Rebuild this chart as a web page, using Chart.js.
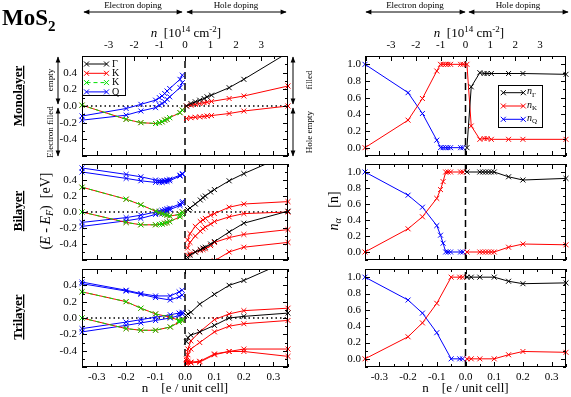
<!DOCTYPE html>
<html>
<head>
<meta charset="utf-8">
<script src="https://cdn.jsdelivr.net/npm/chart.js@4.4.0/dist/chart.umd.min.js"></script>
<style>
  body { margin: 0; background: #fff; }
  #wrap { position: relative; width: 571px; height: 397px; overflow: hidden; }
  canvas { position: absolute; }
  #ov { position: absolute; left: 0; top: 0; pointer-events: none; }
</style>
</head>
<body>
<div id="wrap">
  <canvas id="cML"></canvas>
  <canvas id="cMR"></canvas>
  <canvas id="cBL"></canvas>
  <canvas id="cBR"></canvas>
  <canvas id="cTL"></canvas>
  <canvas id="cTR"></canvas>
  <svg id="ov" width="571" height="397" font-family="Liberation Serif, serif">
    <defs>
      <marker id="ah" viewBox="0 0 10 10" refX="9" refY="5" markerWidth="7" markerHeight="6" orient="auto-start-reverse">
        <path d="M0,1 L10,5 L0,9 z" fill="#000"/>
      </marker>
    </defs>
    <text x="2" y="25" font-size="23" font-weight="bold">MoS<tspan dy="6" font-size="15">2</tspan></text>

    <!-- doping arrows -->
    <g stroke="#000" stroke-width="1">
      <line x1="84" y1="12" x2="182" y2="12" marker-start="url(#ah)" marker-end="url(#ah)"/>
      <line x1="187" y1="12" x2="286" y2="12" marker-start="url(#ah)" marker-end="url(#ah)"/>
      <line x1="366" y1="12" x2="465" y2="12" marker-start="url(#ah)" marker-end="url(#ah)"/>
      <line x1="469" y1="12" x2="568" y2="12" marker-start="url(#ah)" marker-end="url(#ah)"/>
      <line x1="58" y1="57" x2="58" y2="104" marker-start="url(#ah)" marker-end="url(#ah)"/>
      <line x1="58" y1="108" x2="58" y2="156" marker-start="url(#ah)" marker-end="url(#ah)"/>
      <line x1="293" y1="57" x2="293" y2="104" marker-start="url(#ah)" marker-end="url(#ah)"/>
      <line x1="293" y1="108" x2="293" y2="156" marker-start="url(#ah)" marker-end="url(#ah)"/>
    </g>
    <g font-size="9" text-anchor="middle">
      <text x="133" y="8">Electron doping</text>
      <text x="236" y="8">Hole doping</text>
      <text x="415" y="8">Electron doping</text>
      <text x="518" y="8">Hole doping</text>
      <text transform="translate(53,80) rotate(-90)">empty</text>
      <text transform="translate(53,132) rotate(-90)">Electron filled</text>
      <text transform="translate(312,80) rotate(-90)">filled</text>
      <text transform="translate(312,132) rotate(-90)">Hole empty</text>
    </g>

    <!-- top axis titles -->
    <g font-size="13" text-anchor="middle">
      <text x="186" y="37"><tspan font-style="italic">n</tspan>&#160;&#160;[10<tspan font-size="9" dy="-5">14</tspan><tspan dy="5"> cm</tspan><tspan font-size="9" dy="-5">-2</tspan><tspan dy="5">]</tspan></text>
      <text x="469" y="37"><tspan font-style="italic">n</tspan>&#160;&#160;[10<tspan font-size="9" dy="-5">14</tspan><tspan dy="5"> cm</tspan><tspan font-size="9" dy="-5">-2</tspan><tspan dy="5">]</tspan></text>
    </g>

    <!-- row labels -->
    <g font-size="13" font-weight="bold" text-anchor="middle" text-decoration="underline">
      <text transform="translate(22,96) rotate(-90)">Monolayer</text>
      <text transform="translate(22,211) rotate(-90)">Bilayer</text>
      <text transform="translate(22,317) rotate(-90)">Trilayer</text>
    </g>

    <!-- y axis titles -->
    <g font-size="14" text-anchor="middle">
      <text transform="translate(50,211) rotate(-90)">(<tspan font-style="italic">E</tspan> - <tspan font-style="italic">E</tspan><tspan font-size="10" font-style="italic" dy="3">F</tspan><tspan dy="-3">)&#160;&#160;[eV]</tspan></text>
      <text transform="translate(338,211) rotate(-90)"><tspan font-style="italic">n</tspan><tspan font-size="10" font-style="italic" dy="3">α</tspan><tspan dy="-3">&#160;&#160;&#160;[n]</tspan></text>
    </g>
  </svg>
</div>
<script>
// ---------- axes ----------
const N_MIN = -0.35, N_MAX = 0.35;
const N_TICKS = [-0.35, -0.3, -0.25, -0.2, -0.15, -0.1, -0.05, 0, 0.05, 0.1, 0.15, 0.2, 0.25, 0.3, 0.35];
const N_LABELS = [-0.3, -0.2, -0.1, 0, 0.1, 0.2, 0.3];
const CM_PER_CELL = 11.56; // 1 e/cell in 10^14 cm^-2
const CM_TICKS = [-4, -3.5, -3, -2.5, -2, -1.5, -1, -0.5, 0, 0.5, 1, 1.5, 2, 2.5, 3, 3.5, 4];
const CM_LABELS = [-3, -2, -1, 0, 1, 2, 3];
const E_TICKS = [-0.6, -0.5, -0.4, -0.3, -0.2, -0.1, 0, 0.1, 0.2, 0.3, 0.4, 0.5, 0.6];
const E_LABELS = [-0.4, -0.2, 0, 0.2, 0.4];
const OCC_TICKS = [-0.1, 0, 0.1, 0.2, 0.3, 0.4, 0.5, 0.6, 0.7, 0.8, 0.9, 1, 1.1];
const OCC_LABELS = [0, 0.2, 0.4, 0.6, 0.8, 1];

// ---------- monolayer ----------
const N_E1 = [-0.35, -0.2, -0.15, -0.1, -0.087, -0.078, -0.069, -0.061, -0.052, -0.017, -0.009];
const MONO_K_E = [0.01, -0.16, -0.2, -0.21, -0.2, -0.19, -0.17, -0.16, -0.14, -0.08, -0.05];
const MONO_Q1 = [-0.12, -0.03, 0.02, 0.07, 0.1, 0.12, 0.15, 0.18, 0.21, 0.32, 0.37];
const MONO_Q2 = [-0.17, -0.11, -0.06, -0.02, 0.01, 0.03, 0.05, 0.08, 0.11, 0.22, 0.28];
const N_HM = [0.005, 0.02, 0.035, 0.05, 0.065, 0.075, 0.09, 0.15, 0.2, 0.35];
const MONO_G = [0.0, 0.03, 0.05, 0.07, 0.09, 0.11, 0.13, 0.22, 0.32, 0.64];
const MONO_K_H1 = [0.0, 0.01, 0.02, 0.03, 0.04, 0.045, 0.055, 0.09, 0.12, 0.24];
const MONO_K_H2 = [-0.15, -0.14, -0.135, -0.13, -0.125, -0.12, -0.115, -0.09, -0.06, 0.0];
const N_HMR = [0.005, 0.02, 0.05, 0.065, 0.075, 0.09, 0.15, 0.2, 0.35];
const MONO_NQ = [1, 0.66, 0.41, 0.09, 0, 0, 0, 0, 0, 0, 0];
const MONO_NK = [0, 0.33, 0.59, 0.92, 1, 1, 1, 1, 1, 1, 1, 1, 0.26, 0.1, 0.11, 0.11, 0.1, 0.1, 0.1, 0.1];
const MONO_NG = [0, 0.73, 0.9, 0.89, 0.89, 0.89, 0.89, 0.89, 0.88];

// ---------- bilayer ----------
const BI_Q1 = [0.55, 0.47, 0.44, 0.40, 0.39, 0.39, 0.39, 0.40, 0.41, 0.46, 0.48];
const BI_Q2 = [0.5, 0.42, 0.39, 0.37, 0.37, 0.37, 0.38, 0.38, 0.39, 0.45, 0.47];
const BI_Q3 = [-0.13, -0.07, -0.04, 0.0, 0.01, 0.02, 0.03, 0.04, 0.05, 0.1, 0.13];
const BI_Q4 = [-0.18, -0.11, -0.08, -0.03, -0.02, -0.01, 0.0, 0.01, 0.03, 0.08, 0.11];
const BI_K1 = [0.31, 0.16, 0.09, 0.01, -0.01, -0.02, -0.03, -0.04, -0.05, -0.03, 0.0];
const BI_K2 = [0.0, -0.13, -0.16, -0.16, -0.155, -0.15, -0.14, -0.13, -0.12, -0.06, -0.03];
const N_H2 = [0.009, 0.017, 0.035, 0.052, 0.061, 0.069, 0.087, 0.1, 0.15, 0.2, 0.35];
const BI_G1 = [0.03, 0.05, 0.1, 0.15, 0.18, 0.2, 0.25, 0.28, 0.39, 0.48, 0.72];
const BI_G2 = [-0.57, -0.54, -0.5, -0.47, -0.45, -0.44, -0.4, -0.37, -0.25, -0.14, 0.01];
const BI_R1 = [-0.35, -0.27, -0.18, -0.12, -0.1, -0.08, -0.04, -0.02, 0.06, 0.1, 0.13];
const BI_R2 = [-0.45, -0.38, -0.3, -0.24, -0.21, -0.19, -0.15, -0.12, -0.06, -0.02, 0.0];
const BI_R3 = [-0.54, -0.52, -0.5, -0.48, -0.47, -0.46, -0.42, -0.38, -0.32, -0.28, -0.22];
const N_R4 = [0.1, 0.15, 0.2, 0.35];
const BI_R4 = [-0.61, -0.5, -0.44, -0.38];
const BI_NQ = [1, 0.71, 0.56, 0.33, 0.21, 0.11, 0, 0, 0, 0, 0];
const BI_NK_E = [0, 0.29, 0.44, 0.67, 0.78, 0.88, 1, 1, 1, 1, 1];
const N_H2R = [0.005, 0.05, 0.06, 0.07, 0.08, 0.09, 0.1, 0.15, 0.2, 0.35];
const BI_NG = [1, 1, 1, 1, 1, 1, 1, 0.94, 0.9, 0.92];
const BI_NK_H = [0, 0, 0, 0, 0, 0, 0, 0.06, 0.1, 0.09];

// ---------- trilayer ----------
const N_E3 = [-0.35, -0.2, -0.15, -0.1, -0.05, -0.02, -0.01];
const TRI_Q1 = [0.44, 0.34, 0.3, 0.27, 0.27, 0.32, 0.34];
const TRI_Q2 = [0.42, 0.33, 0.29, 0.25, 0.22, 0.26, 0.28];
const TRI_Q3 = [-0.13, -0.05, -0.02, 0.01, 0.04, 0.06, 0.07];
const TRI_Q4 = [-0.17, -0.09, -0.06, -0.03, 0.0, 0.03, 0.05];
const TRI_K1 = [0.32, 0.2, 0.12, 0.05, 0.01, -0.03, -0.02];
const TRI_K2 = [0.0, -0.13, -0.15, -0.15, -0.11, -0.05, -0.03];
const N_H3 = [0.005, 0.01, 0.02, 0.05, 0.1, 0.15, 0.2, 0.35];
const TRI_G1 = [0.03, 0.05, 0.07, 0.17, 0.29, 0.4, 0.46, 0.7];
const TRI_G2 = [-0.29, -0.24, -0.21, -0.17, -0.09, 0.0, 0.02, 0.06];
const TRI_R1 = [-0.5, -0.38, -0.28, -0.17, -0.02, 0.05, 0.09, 0.12];
const TRI_R2 = [-0.52, -0.45, -0.38, -0.3, -0.17, -0.1, -0.07, -0.03];
const TRI_R3 = [-0.52, -0.53, -0.54, -0.53, -0.44, -0.41, -0.38, -0.38];
const TRI_R4 = [-0.56, -0.55, -0.55, -0.54, -0.45, -0.41, -0.41, -0.47];
const TRI_NQ = [1, 0.72, 0.56, 0.32, 0, 0, 0];
const TRI_NK_E = [0, 0.27, 0.44, 0.68, 1, 1, 1];
const N_H3R = [0.005, 0.02, 0.05, 0.1, 0.15, 0.2, 0.35];
const TRI_NG = [1, 1, 1, 1, 0.95, 0.92, 0.93];
const TRI_NK_H = [0, 0, 0, 0, 0.05, 0.09, 0.08];

// ---------- styling ----------
const FONT = 'Liberation Serif';
const BLACK = '#000000', RED = '#ff0000', GREEN = '#00e000', BLUE = '#0000ff';
Chart.defaults.font.family = FONT;
Chart.defaults.color = '#000';

// plot rectangles (page pixels) and margins for the tick labels
const COLS = [{l: 82, r: 288, ml: 44, mr: 8, pad: 5}, {l: 365, r: 569, ml: 40, mr: 2, pad: 4}];
const ROWS = [{t: 56, b: 157, mt: 26, mb: 4}, {t: 162, b: 261, mt: 3, mb: 4}, {t: 267, b: 367, mt: 3, mb: 30}];

const LEGENDS = {
  cML: {x: 0, y: 0, w: 43, h: 39, y0: 8, dy: 9.3, lx0: 4.5, lx1: 24.5, tx: 30,
        rows: [{c: BLACK, t: 'Γ'}, {c: RED, t: 'K'}, {c: GREEN, t: 'K', dash: true}, {c: BLUE, t: 'Q'}]},
  cMR: {x: 133, y: 29, w: 44, h: 42, y0: 7.7, dy: 13.3, lx0: 5.3, lx1: 25.3, tx: 29,
        rows: [{c: BLACK, sub: 'Γ'}, {c: RED, sub: 'K'}, {c: BLUE, sub: 'Q'}]}
};

const isMul = (v, s) => Math.abs(v / s - Math.round(v / s)) < 1e-6;
const fmt = (v, list, d) => list.some(t => Math.abs(t - v) < 1e-6) ? (Math.abs(v) < 1e-9 ? 0 : v).toFixed(d) : '';

function curve(xs, ys, color, dash) {
  return {
    data: xs.map((x, i) => ({x: x, y: ys[i]})),
    xAxisID: 'x',
    borderColor: color, backgroundColor: color,
    borderWidth: 1, borderDash: dash || [],
    pointStyle: 'crossRot', pointRadius: 3.5, pointBorderWidth: 1, pointBorderColor: color,
    tension: 0, clip: {left: 8, right: 8, top: 0, bottom: 0}
  };
}
function refLine(pts, dash, w) {
  return {data: pts, xAxisID: 'x', borderColor: '#000', borderWidth: w, borderDash: dash, pointRadius: 0, clip: 0};
}
const vDash = (lo, hi) => refLine([{x: 0, y: lo}, {x: 0, y: hi}], [7, 4], 1.5);
const hDot = () => refLine([{x: N_MIN, y: 0}, {x: N_MAX, y: 0}], [1.5, 3], 1.5);

function cross(ctx, x, y, r) {
  ctx.beginPath();
  ctx.moveTo(x - r, y - r); ctx.lineTo(x + r, y + r);
  ctx.moveTo(x - r, y + r); ctx.lineTo(x + r, y - r);
  ctx.stroke();
}

// frame with inward tick marks on all four sides
const framePlugin = {
  id: 'frame',
  afterDatasetsDraw(chart) {
    const {ctx, chartArea: a, scales} = chart;
    ctx.save();
    ctx.strokeStyle = '#000';
    ctx.lineWidth = 1;
    ctx.beginPath();
    scales.y.ticks.forEach(t => {
      const p = Math.round(scales.y.getPixelForValue(t.value)) + 0.5;
      const len = t.big ? 5 : 3;
      ctx.moveTo(a.left, p); ctx.lineTo(a.left + len, p);
      ctx.moveTo(a.right, p); ctx.lineTo(a.right - len, p);
    });
    scales.x.ticks.forEach(t => {
      const p = Math.round(scales.x.getPixelForValue(t.value)) + 0.5;
      const len = t.big ? 5 : 3;
      ctx.moveTo(p, a.bottom); ctx.lineTo(p, a.bottom - len);
      if (!scales.x2) { ctx.moveTo(p, a.top); ctx.lineTo(p, a.top + len); }
    });
    if (scales.x2) {
      scales.x2.ticks.forEach(t => {
        const p = Math.round(scales.x2.getPixelForValue(t.value)) + 0.5;
        const len = t.big ? 5 : 3;
        ctx.moveTo(p, a.top); ctx.lineTo(p, a.top + len);
      });
    }
    ctx.stroke();
    ctx.strokeRect(a.left + 0.5, a.top + 0.5, a.right - a.left - 1, a.bottom - a.top - 1);
    ctx.restore();
  }
};

// xmgrace-like boxed legend inside the plot
const legendPlugin = {
  id: 'boxLegend',
  afterDraw(chart) {
    const L = LEGENDS[chart.canvas.id];
    if (!L) return;
    const {ctx, chartArea: a} = chart;
    const x = Math.round(a.left + L.x), y = Math.round(a.top + L.y);
    ctx.save();
    ctx.fillStyle = '#fff';
    ctx.fillRect(x, y, L.w, L.h);
    ctx.strokeStyle = '#000';
    ctx.lineWidth = 1;
    ctx.strokeRect(x + 0.5, y + 0.5, L.w, L.h);
    L.rows.forEach((r, i) => {
      const yy = y + L.y0 + i * L.dy;
      ctx.strokeStyle = r.c;
      ctx.setLineDash(r.dash ? [4, 3] : []);
      ctx.beginPath();
      ctx.moveTo(x + L.lx0, yy); ctx.lineTo(x + L.lx1, yy);
      ctx.stroke();
      ctx.setLineDash([]);
      cross(ctx, x + L.lx0, yy, 2.5);
      cross(ctx, x + L.lx1, yy, 2.5);
      ctx.fillStyle = '#000';
      ctx.textBaseline = 'middle';
      if (r.sub) {
        ctx.font = 'italic 10px ' + FONT;
        ctx.fillText('n', x + L.tx, yy - 1);
        ctx.font = '7px ' + FONT;
        ctx.fillText(r.sub, x + L.tx + 5, yy + 2);
      } else {
        ctx.font = '10px ' + FONT;
        ctx.fillText(r.t, x + L.tx, yy);
      }
    });
    ctx.restore();
  }
};

function panel(id, col, row, kind, datasets) {
  const C = COLS[col], R = ROWS[row];
  const top = row === 0, bottom = row === 2;
  const cv = document.getElementById(id);
  const w = C.r - C.l + C.ml + C.mr, h = R.b - R.t + R.mt + R.mb;
  cv.width = w; cv.height = h;
  cv.style.width = w + 'px'; cv.style.height = h + 'px';
  cv.style.left = (C.l - C.ml) + 'px'; cv.style.top = (R.t - R.mt) + 'px';

  const yT = kind === 'E' ? E_TICKS : OCC_TICKS;
  const yL = kind === 'E' ? E_LABELS : OCC_LABELS;
  const scales = {
    x: {
      type: 'linear', position: 'bottom', min: N_MIN, max: N_MAX,
      afterBuildTicks: s => { s.ticks = N_TICKS.map(v => ({value: v, big: isMul(v, 0.1)})); },
      ticks: {display: bottom, autoSkip: false, maxRotation: 0, padding: 4, font: {size: 11},
              callback: v => fmt(v, N_LABELS, 1)},
      grid: {display: false, drawTicks: false}, border: {display: false},
      title: {display: bottom, text: 'n    [e / unit cell]', font: {size: 13}, padding: {top: 0, bottom: 1}},
      afterFit: s => { s.height = R.mb; s.paddingLeft = 0; s.paddingRight = 0; }
    },
    y: {
      type: 'linear', min: yT[0], max: yT[yT.length - 1],
      afterBuildTicks: s => { s.ticks = yT.map(v => ({value: v, big: isMul(v, 0.2)})); },
      ticks: {autoSkip: false, padding: C.pad, font: {size: 11}, callback: v => fmt(v, yL, 1)},
      grid: {display: false, drawTicks: false}, border: {display: false},
      afterFit: s => { s.width = C.ml; s.paddingTop = 0; s.paddingBottom = 0; }
    }
  };
  if (top) {
    scales.x2 = {
      type: 'linear', position: 'top', min: N_MIN * CM_PER_CELL, max: N_MAX * CM_PER_CELL,
      afterBuildTicks: s => { s.ticks = CM_TICKS.map(v => ({value: v, big: isMul(v, 1)})); },
      ticks: {autoSkip: false, maxRotation: 0, padding: 4, font: {size: 11}, callback: v => fmt(v, CM_LABELS, 0)},
      grid: {display: false, drawTicks: false}, border: {display: false},
      afterFit: s => { s.height = R.mt; s.paddingLeft = 0; s.paddingRight = 0; }
    };
  }

  new Chart(cv, {
    type: 'line',
    data: {datasets: datasets},
    options: {
      responsive: false, animation: false, events: [], devicePixelRatio: 1,
      layout: {padding: {left: 0, right: C.mr, top: top ? 0 : R.mt, bottom: 0}},
      plugins: {legend: {display: false}, tooltip: {enabled: false}},
      scales: scales
    },
    plugins: [framePlugin, legendPlugin]
  });
}

const dash = [4, 3];

panel('cML', 0, 0, 'E', [
  curve(N_E1, MONO_K_E, GREEN, dash),
  curve(N_E1, MONO_K_E, RED),
  curve(N_E1, MONO_Q1, BLUE),
  curve(N_E1, MONO_Q2, BLUE),
  curve(N_HM, MONO_G, BLACK),
  curve(N_HM, MONO_K_H1, RED),
  curve(N_HM, MONO_K_H2, RED),
  vDash(-0.6, 0.6), hDot()
]);
panel('cMR', 1, 0, 'OCC', [
  curve(N_HMR, MONO_NG, BLACK),
  curve(N_E1.concat(N_HMR), MONO_NK, RED),
  curve(N_E1, MONO_NQ, BLUE),
  vDash(-0.1, 1.1)
]);
panel('cBL', 0, 1, 'E', [
  curve(N_E1, BI_K1, GREEN, dash),
  curve(N_E1, BI_K2, GREEN, dash),
  curve(N_E1, BI_K1, RED),
  curve(N_E1, BI_K2, RED),
  curve(N_E1, BI_Q1, BLUE),
  curve(N_E1, BI_Q2, BLUE),
  curve(N_E1, BI_Q3, BLUE),
  curve(N_E1, BI_Q4, BLUE),
  curve(N_H2, BI_G1, BLACK),
  curve(N_H2, BI_G2, BLACK),
  curve(N_H2, BI_R1, RED),
  curve(N_H2, BI_R2, RED),
  curve(N_H2, BI_R3, RED),
  curve(N_R4, BI_R4, RED),
  vDash(-0.6, 0.6), hDot()
]);
panel('cBR', 1, 1, 'OCC', [
  curve(N_H2R, BI_NG, BLACK),
  curve(N_E1, BI_NK_E, RED),
  curve(N_H2R, BI_NK_H, RED),
  curve(N_E1, BI_NQ, BLUE),
  vDash(-0.1, 1.1)
]);
panel('cTL', 0, 2, 'E', [
  curve(N_E3, TRI_K1, GREEN, dash),
  curve(N_E3, TRI_K2, GREEN, dash),
  curve(N_E3, TRI_K1, RED),
  curve(N_E3, TRI_K2, RED),
  curve(N_E3, TRI_Q1, BLUE),
  curve(N_E3, TRI_Q2, BLUE),
  curve(N_E3, TRI_Q3, BLUE),
  curve(N_E3, TRI_Q4, BLUE),
  curve(N_H3, TRI_G1, BLACK),
  curve(N_H3, TRI_G2, BLACK),
  curve(N_H3, TRI_R1, RED),
  curve(N_H3, TRI_R2, RED),
  curve(N_H3, TRI_R3, RED),
  curve(N_H3, TRI_R4, RED),
  vDash(-0.6, 0.6), hDot()
]);
panel('cTR', 1, 2, 'OCC', [
  curve(N_H3R, TRI_NG, BLACK),
  curve(N_E3, TRI_NK_E, RED),
  curve(N_H3R, TRI_NK_H, RED),
  curve(N_E3, TRI_NQ, BLUE),
  vDash(-0.1, 1.1)
]);
</script>
</body>
</html>
